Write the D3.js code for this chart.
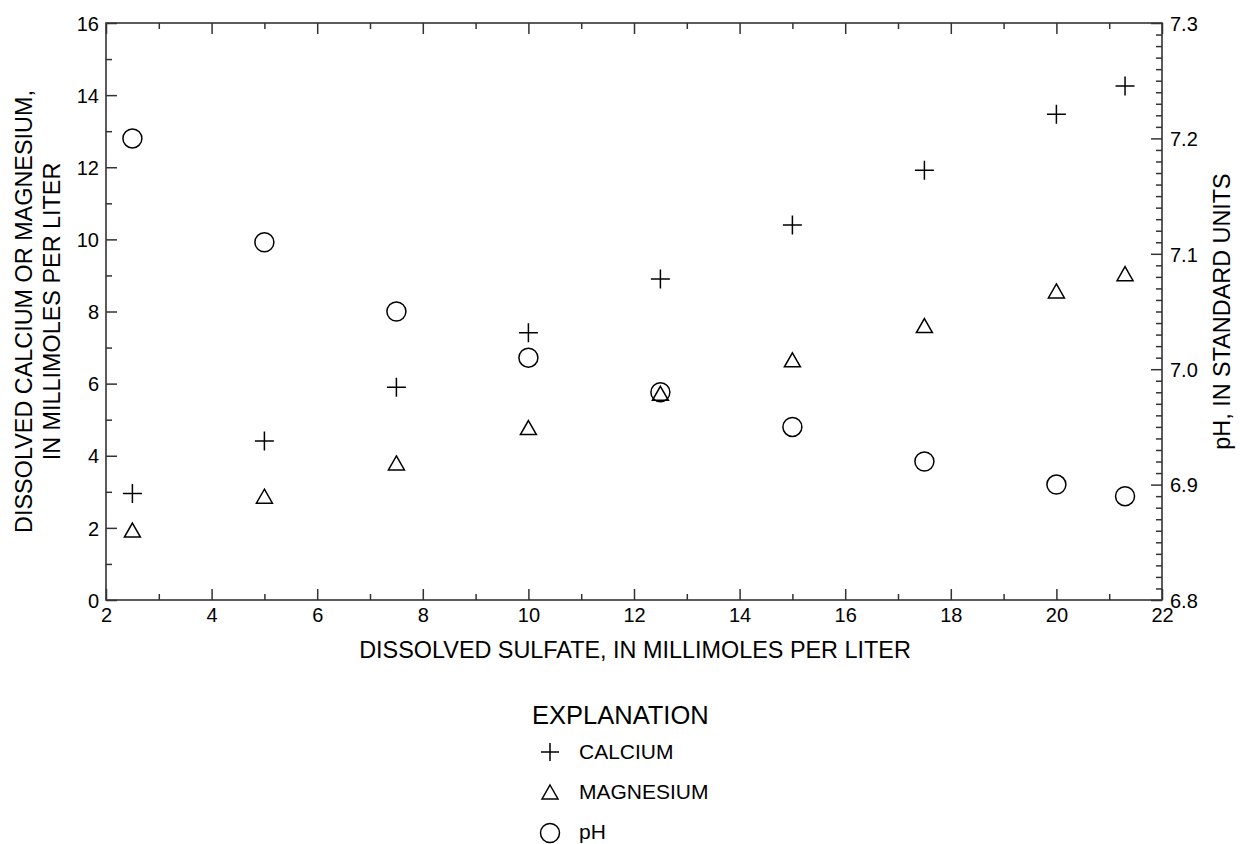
<!DOCTYPE html>
<html>
<head>
<meta charset="utf-8">
<script src="https://cdn.jsdelivr.net/npm/d3@7/dist/d3.min.js"></script>
<style>
  html, body { margin: 0; padding: 0; background: #fff; }
  svg { display: block; }
  text { font-family: "Liberation Sans", Arial, Helvetica, sans-serif; fill: #000; }
</style>
</head>
<body>
<svg id="chart" width="1240" height="844"></svg>
<script>
// ---- data ----
const sulfate   = [2.5, 5, 7.5, 10, 12.5, 15, 17.5, 20, 21.3];
const calcium   = [2.95, 4.41, 5.9, 7.41, 8.9, 10.4, 11.92, 13.47, 14.25];
const magnesium = [1.94, 2.88, 3.8, 4.78, 5.73, 6.66, 7.61, 8.57, 9.05];
const pH        = [7.2, 7.11, 7.05, 7.01, 6.98, 6.95, 6.92, 6.9, 6.89];

const xTickLabels  = [2, 4, 6, 8, 10, 12, 14, 16, 18, 20, 22];
const yTickLabels  = [0, 2, 4, 6, 8, 10, 12, 14, 16];
const y2TickLabels = [6.8, 6.9, 7.0, 7.1, 7.2, 7.3];

const xTitle  = "DISSOLVED SULFATE, IN MILLIMOLES PER LITER";
const yTitle1 = "DISSOLVED CALCIUM OR MAGNESIUM,";
const yTitle2 = "IN MILLIMOLES PER LITER";
const y2Title = "pH, IN STANDARD UNITS";
const legendTitle = "EXPLANATION";
const legendItems = ["CALCIUM", "MAGNESIUM", "pH"];

// ---- layout ----
const L = 106, R = 1162, T = 23, B = 600;
const svg = d3.select("#chart");

const x  = d3.scaleLinear().domain([2, 22]).range([L, R]);
const y  = d3.scaleLinear().domain([0, 16]).range([B, T]);
const y2 = d3.scaleLinear().domain([6.8, 7.3]).range([B, T]);

const axisColor = "#333";
const MAJ = 11, MIN = 6;

function styleAxis(g) {
  g.select(".domain").remove();
  g.selectAll(".tick line").attr("stroke", axisColor).attr("stroke-width", 1.5);
  g.selectAll(".tick text").attr("font-size", 20).attr("fill", "#000")
    .style("font-family", '"Liberation Sans", Arial, Helvetica, sans-serif');
}

const xMinor = d3.range(2, 23, 1).filter(v => v % 2 !== 0);
const yMinor = d3.range(0, 17, 1).filter(v => v % 2 !== 0);
const y2Minor = d3.range(0, 51).map(i => +(6.8 + i * 0.01).toFixed(2))
  .filter(v => Math.abs(v * 10 - Math.round(v * 10)) > 1e-6);

// bottom axis (ticks inward = upward)
svg.append("g").attr("transform", `translate(0,${B})`)
  .call(d3.axisBottom(x).tickValues(xTickLabels).tickSize(-MAJ).tickPadding(8).tickFormat(d3.format("d")))
  .call(styleAxis)
  .call(g => g.selectAll(".tick text").attr("y", 0).attr("dy", 22));
svg.append("g").attr("transform", `translate(0,${B})`)
  .call(d3.axisBottom(x).tickValues(xMinor).tickSize(-MIN).tickFormat(""))
  .call(styleAxis);

// top axis (ticks downward)
svg.append("g").attr("transform", `translate(0,${T})`)
  .call(d3.axisTop(x).tickValues(xTickLabels).tickSize(-MAJ).tickFormat(""))
  .call(styleAxis);
svg.append("g").attr("transform", `translate(0,${T})`)
  .call(d3.axisTop(x).tickValues(xMinor).tickSize(-MIN).tickFormat(""))
  .call(styleAxis);

// left axis
svg.append("g").attr("transform", `translate(${L},0)`)
  .call(d3.axisLeft(y).tickValues(yTickLabels).tickSize(-MAJ).tickFormat(d3.format("d")))
  .call(styleAxis)
  .call(g => g.selectAll(".tick text").attr("x", -7).attr("dy", "0.36em"));
svg.append("g").attr("transform", `translate(${L},0)`)
  .call(d3.axisLeft(y).tickValues(yMinor).tickSize(-MIN).tickFormat(""))
  .call(styleAxis);

// right axis
svg.append("g").attr("transform", `translate(${R},0)`)
  .call(d3.axisRight(y2).tickValues(y2TickLabels).tickSize(-MAJ).tickFormat(d3.format(".1f")))
  .call(styleAxis)
  .call(g => g.selectAll(".tick text").attr("x", 8).attr("dy", "0.36em"));
svg.append("g").attr("transform", `translate(${R},0)`)
  .call(d3.axisRight(y2).tickValues(y2Minor).tickSize(-MIN).tickFormat(""))
  .call(styleAxis);

// frame
svg.append("rect").attr("x", L).attr("y", T).attr("width", R - L).attr("height", B - T)
  .attr("fill", "none").attr("stroke", axisColor).attr("stroke-width", 1.6);

// axis titles
svg.append("text").attr("x", (L + R) / 2 + 1).attr("y", 658)
  .attr("text-anchor", "middle").attr("font-size", 23.4).text(xTitle);
svg.append("text").attr("transform", `translate(31.5,${(T + B) / 2}) rotate(-90)`)
  .attr("text-anchor", "middle").attr("font-size", 23.4).text(yTitle1);
svg.append("text").attr("transform", `translate(60,${(T + B) / 2}) rotate(-90)`)
  .attr("text-anchor", "middle").attr("font-size", 23.4).text(yTitle2);
svg.append("text").attr("transform", `translate(1230,${(T + B) / 2}) rotate(-90)`)
  .attr("text-anchor", "middle").attr("font-size", 23.4).text(y2Title);

// symbols
const plusPath = (s) => `M${-s},0H${s}M0,${-s}V${s}`;
const triPath = (w, h) => `M0,${-h / 2}L${w / 2},${h / 2}L${-w / 2},${h / 2}Z`;
const markStyle = sel => sel.attr("fill", "none").attr("stroke", "#000").attr("stroke-width", 1.5);

const plot = svg.append("g");
const idx = d3.range(sulfate.length);

plot.selectAll(".ph").data(idx).join("circle")
  .attr("cx", i => x(sulfate[i])).attr("cy", i => y2(pH[i])).attr("r", 9.5)
  .call(markStyle);
plot.selectAll(".mg").data(idx).join("path")
  .attr("d", triPath(16, 14))
  .attr("transform", i => `translate(${x(sulfate[i])},${y(magnesium[i])})`)
  .call(markStyle);
plot.selectAll(".ca").data(idx).join("path")
  .attr("d", plusPath(9.5))
  .attr("transform", i => `translate(${x(sulfate[i])},${y(calcium[i])})`)
  .call(markStyle);

// legend
const lg = svg.append("g");
lg.append("text").attr("x", 532).attr("y", 724).attr("font-size", 25.5).text(legendTitle);
const legY = [752, 792, 833];
lg.append("path").attr("d", plusPath(9)).attr("transform", `translate(550,${legY[0]})`).call(markStyle);
lg.append("path").attr("d", triPath(16, 14)).attr("transform", `translate(550,${legY[1]})`).call(markStyle);
lg.append("circle").attr("cx", 550).attr("cy", legY[2]).attr("r", 9.5).call(markStyle);
legendItems.forEach((t, i) => {
  lg.append("text").attr("x", 579).attr("y", [759, 799, 839][i]).attr("font-size", 21).text(t);
});
</script>
</body>
</html>
